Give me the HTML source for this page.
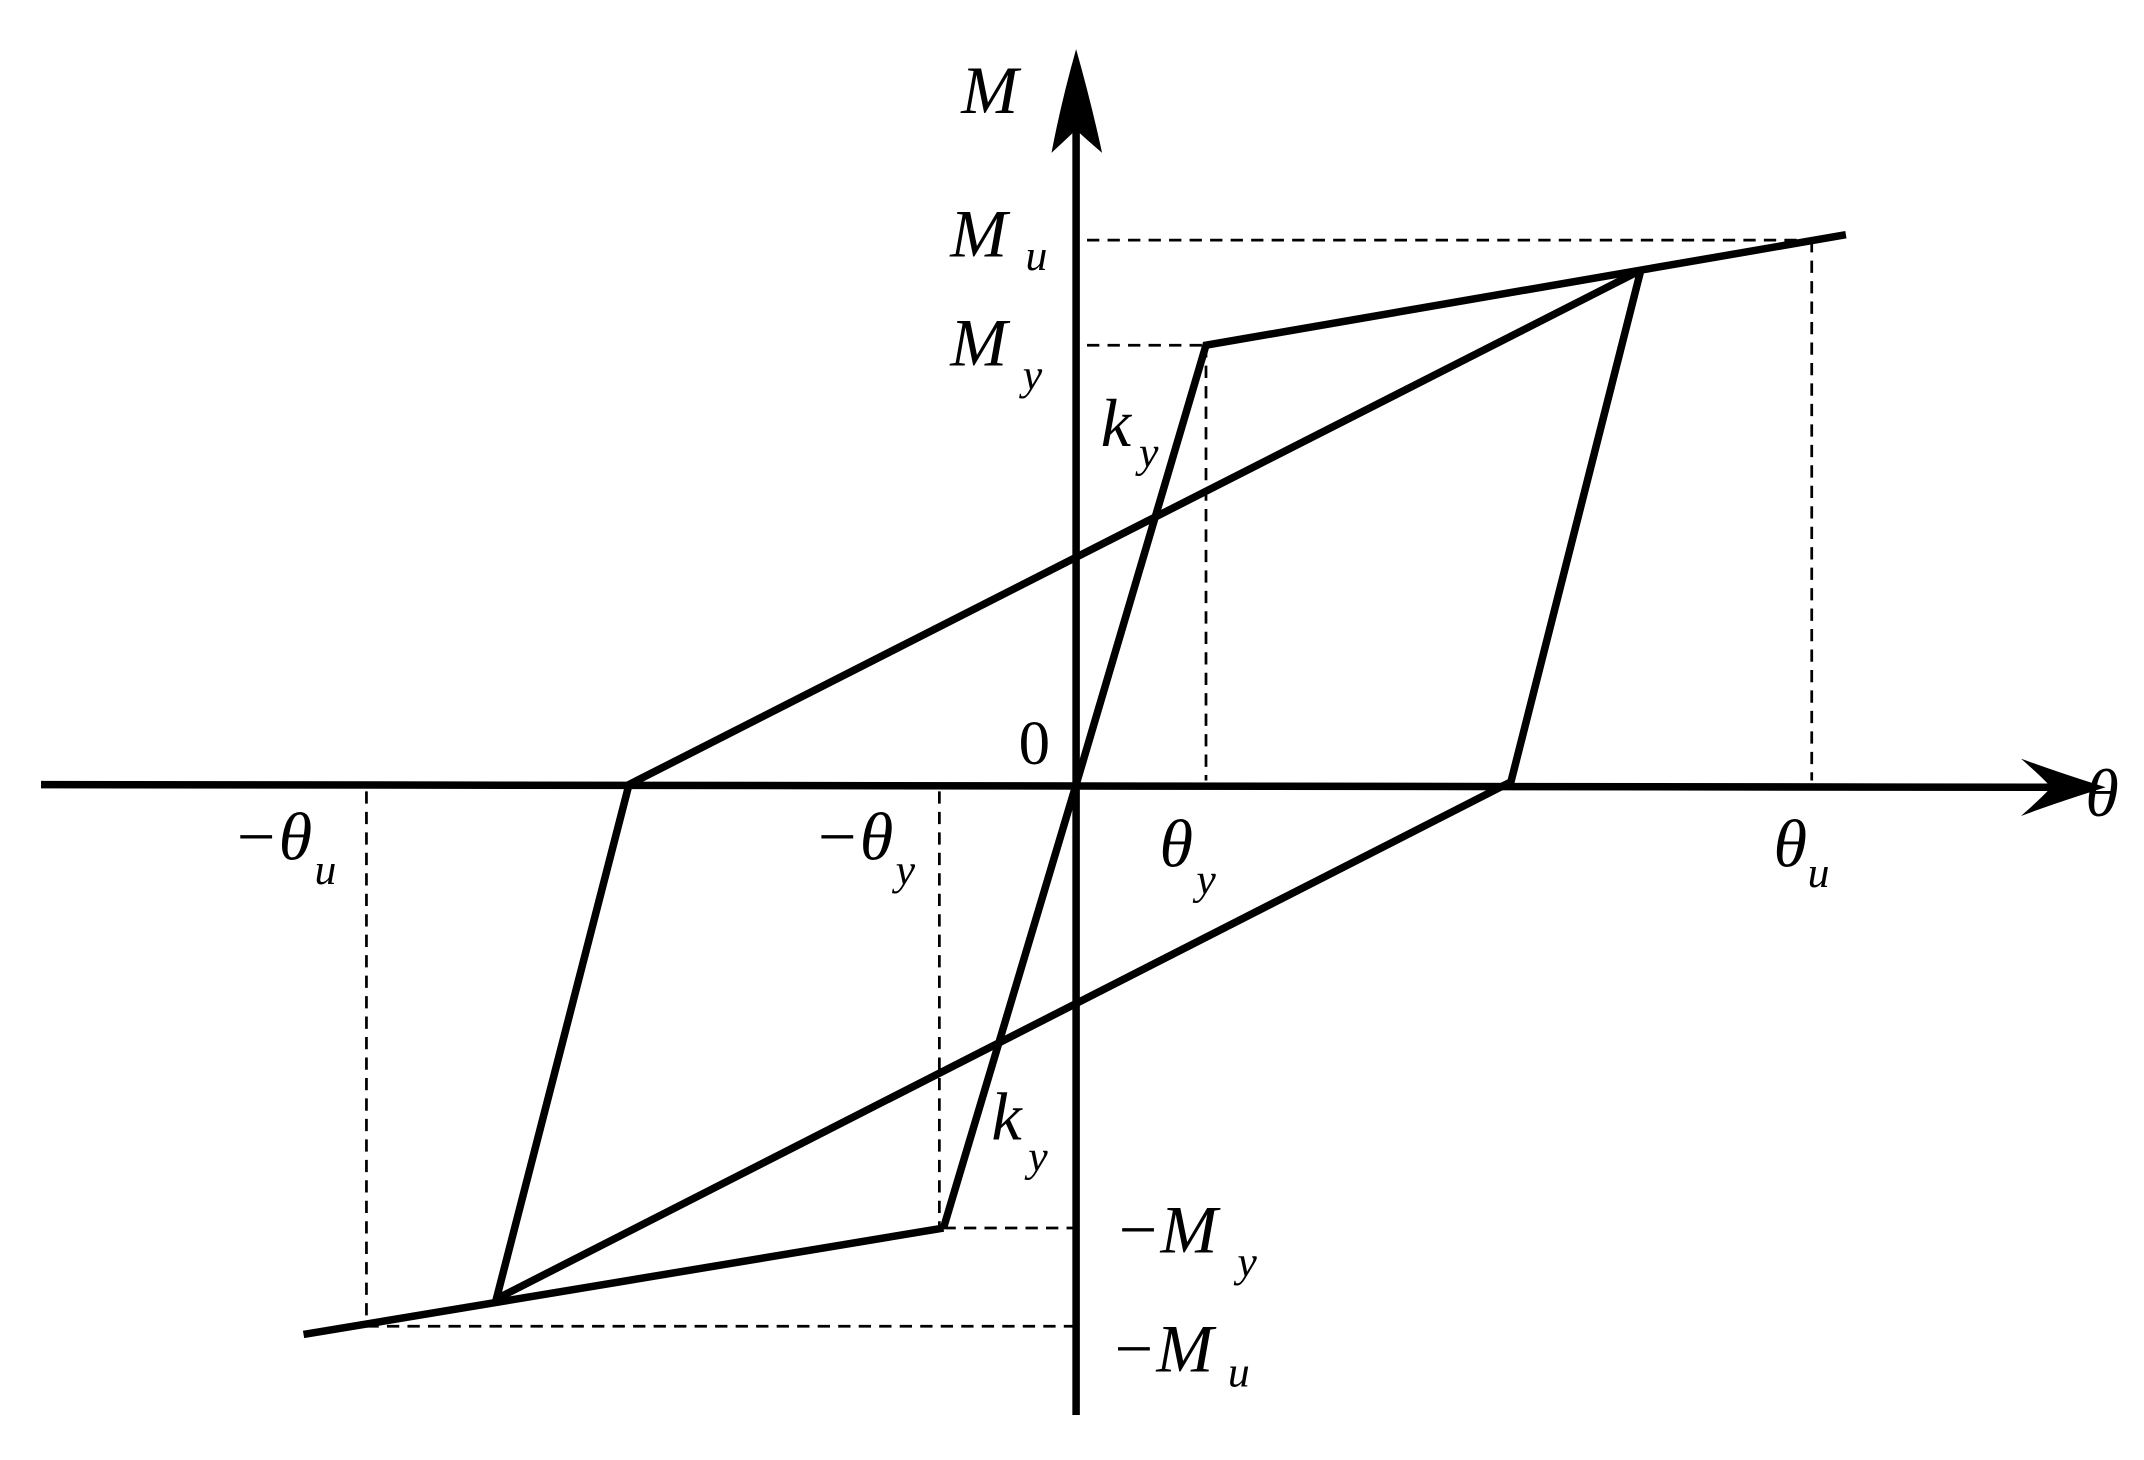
<!DOCTYPE html>
<html><head><style>html,body{margin:0;padding:0;background:#fff}svg{display:block}</style></head>
<body>
<svg width="2144" height="1460" viewBox="0 0 1568 1070" preserveAspectRatio="none" xmlns="http://www.w3.org/2000/svg">
<g stroke="#000" fill="none" stroke-width="2" stroke-dasharray="9,6">
<line x1="795" y1="176" x2="1325" y2="176"/>
<line x1="1325" y1="176" x2="1325" y2="572"/>
<line x1="795" y1="253" x2="882" y2="253"/>
<line x1="882" y1="253" x2="882" y2="572"/>
<line x1="687" y1="580" x2="687" y2="900"/>
<line x1="690" y1="900" x2="785" y2="900"/>
<line x1="268" y1="580" x2="268" y2="972"/>
<line x1="268" y1="972" x2="785" y2="972"/>
</g>
<g stroke="#000" fill="none" stroke-width="5.5" stroke-linejoin="miter">
<line x1="30" y1="575" x2="1500" y2="577"/>
<line x1="787" y1="1037" x2="787" y2="90"/>
<polyline points="690,900 787,575 882,253 1350,172"/>
<polyline points="222,978 690,900"/>
<polyline points="1200,198 1105,573 363,952 460,575 1200,198"/>
</g>
<path d="M1540,577 Q1505,566 1478,556 Q1494,570 1500,577 Q1494,584 1478,598 Q1505,588 1540,577 Z" fill="#000"/>
<path d="M787,36 Q776,75 769,112 Q782,100 787,95 Q792,100 806,112 Q798,75 787,36 Z" fill="#000"/>
<g font-family="Liberation Serif, serif" font-style="italic" fill="#000">
<text x="703" y="83" font-size="50">M</text>
<text x="695" y="188" font-size="50">M</text><text x="750" y="198" font-size="32">u</text>
<text x="695" y="268" font-size="50">M</text><text x="748" y="285" font-size="32">y</text>
<text x="805" y="327" font-size="50">k</text><text x="833" y="342" font-size="32">y</text>
<text x="725" y="835" font-size="50">k</text><text x="752" y="858" font-size="32">y</text>
<text x="815" y="918" font-size="50">−M</text><text x="905" y="935" font-size="32">y</text>
<text x="812" y="1005" font-size="50">−M</text><text x="898" y="1016" font-size="32">u</text>
<text x="170" y="630" font-size="50">−θ</text><text x="230" y="648" font-size="32">u</text>
<text x="595" y="630" font-size="50">−θ</text><text x="655" y="648" font-size="32">y</text>
<text x="848" y="635" font-size="50">θ</text><text x="875" y="655" font-size="32">y</text>
<text x="1297" y="635" font-size="50">θ</text><text x="1322" y="650" font-size="32">u</text>
<text x="1525" y="598" font-size="50">θ</text>
<text x="745" y="560" font-size="46" font-style="normal">0</text>
</g>
</svg>
</body></html>
